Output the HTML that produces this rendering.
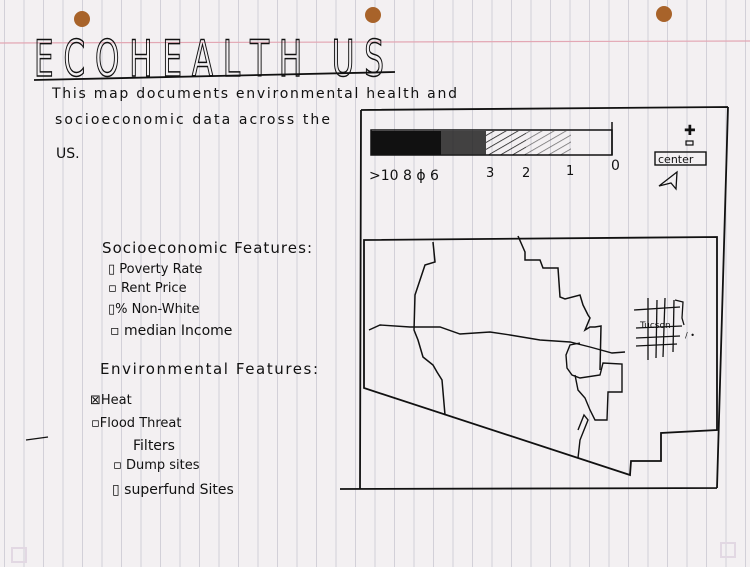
<!DOCTYPE html>
<html><head><meta charset="utf-8"><style>
html,body{margin:0;padding:0;background:#f2eff1;}
svg{display:block}
text{font-family:"DejaVu Sans","Liberation Sans",sans-serif;fill:#111;}
</style></head><body>
<svg width="750" height="567" viewBox="0 0 750 567" xmlns="http://www.w3.org/2000/svg">
<defs>
<pattern id="vl" width="19.5" height="567" patternUnits="userSpaceOnUse" x="4">
<line x1="0.5" y1="0" x2="0.5" y2="567" stroke="#d2d0d8" stroke-width="1"/>
</pattern>
<pattern id="hatch" width="6" height="6" patternUnits="userSpaceOnUse" patternTransform="rotate(60)">
<line x1="0" y1="0" x2="0" y2="6" stroke="#111" stroke-width="1.5"/>
</pattern>
</defs>
<rect width="750" height="567" fill="#f3f0f2"/>
<rect width="750" height="567" fill="url(#vl)"/>
<line x1="0" y1="43" x2="750" y2="41" stroke="#e3a7b4" stroke-width="1.2"/>
<circle cx="82" cy="19" r="8" fill="#a8632a"/>
<circle cx="373" cy="15" r="8" fill="#a8632a"/>
<circle cx="664" cy="14" r="8" fill="#a8632a"/>
<!-- title -->
<text x="34" y="76" font-size="50" stroke="#111" stroke-width="1.5" style="fill:none" textLength="350" lengthAdjust="spacingAndGlyphs">E C O H E A L T H &#160; U S</text>
<line x1="34" y1="80" x2="395" y2="72" stroke="#111" stroke-width="1.8"/>
<!-- description -->
<text x="52" y="98" font-size="14" textLength="405" lengthAdjust="spacing">This  map  documents  environmental  health  and</text>
<text x="55" y="124" font-size="14" textLength="275" lengthAdjust="spacing">socioeconomic  data  across  the</text>
<text x="56" y="158" font-size="14">US.</text>
<!-- features -->
<text x="102" y="253" font-size="15" textLength="210" lengthAdjust="spacing">Socioeconomic   Features:</text>
<text x="108" y="273" font-size="13">▯ Poverty Rate</text>
<text x="108" y="292" font-size="13">▫ Rent  Price</text>
<text x="108" y="313" font-size="13">▯% Non-White</text>
<text x="110" y="335" font-size="14">▫ median  Income</text>
<text x="100" y="374" font-size="15" textLength="218" lengthAdjust="spacing">Environmental  Features:</text>
<text x="90" y="404" font-size="13">⊠Heat</text>
<text x="91" y="427" font-size="13">▫Flood Threat</text>
<text x="133" y="450" font-size="14">Filters</text>
<text x="113" y="469" font-size="13">▫ Dump  sites</text>
<text x="112" y="494" font-size="14">▯ superfund  Sites</text>
<line x1="26" y1="440" x2="48" y2="437" stroke="#111" stroke-width="1.2"/>
<!-- outer frame -->
<path d="M361 110 L728 107 M361 110 L360 489 M340 489 L717 488 M728 107 L717 488" stroke="#111" stroke-width="1.8" fill="none"/>
<!-- legend bar -->
<rect x="371" y="130" width="241" height="25" fill="none" stroke="#111" stroke-width="1.5"/>
<rect x="371" y="131" width="70" height="24" fill="#111"/>
<rect x="441" y="131" width="45" height="24" fill="#222" opacity="0.85"/>
<rect x="486" y="131" width="40" height="24" fill="url(#hatch)"/>
<rect x="526" y="131" width="45" height="24" fill="url(#hatch)" opacity="0.6"/>
<line x1="612" y1="122" x2="612" y2="155" stroke="#111" stroke-width="1.5"/>
<text x="369" y="180" font-size="14">&gt;10 8 ϕ 6</text>
<text x="486" y="177" font-size="13">3</text>
<text x="522" y="177" font-size="13">2</text>
<text x="566" y="175" font-size="13">1</text>
<text x="611" y="170" font-size="14">0</text>
<!-- zoom controls -->
<text x="684" y="135" font-size="14">✚</text>
<rect x="686" y="141" width="7" height="4" fill="none" stroke="#111" stroke-width="1.2"/>
<rect x="655" y="152" width="51" height="13" fill="none" stroke="#111" stroke-width="1.4"/>
<text x="658" y="163" font-size="11">center</text>
<path d="M659 186 L677 172 L676 189 L671 183 Z" fill="none" stroke="#111" stroke-width="1.3"/>
<!-- map -->
<path d="M364 240 L717 237 L717 430 L661 433 L661 461 L631 461 L630 475 L364 388 Z" fill="none" stroke="#111" stroke-width="1.8"/>
<path d="M433 242 L435 262 L425 265 L420 280 L415 295 L414 330 L418 340 L423 357 L433 365 L437 372 L442 380 L445 415" fill="none" stroke="#111" stroke-width="1.5"/>
<path d="M518 236 L525 252 L525 260 L540 260 L543 268 L558 268 L560 297 L565 299 L580 295 L583 305 L588 315 L590 318 L585 330 L590 327 L595 327 L601 326 L600 370" fill="none" stroke="#111" stroke-width="1.5"/>
<path d="M369 330 L380 325 L410 327 L440 327 L460 334 L490 332 L510 335 L540 340 L570 342 L590 347 L612 353 L625 352" fill="none" stroke="#111" stroke-width="1.4"/>
<path d="M580 343 L570 345 L566 355 L567 368 L572 375 L580 378 L600 375 L603 363 L622 364 L622 392 L608 392 L607 420 L595 420 L590 410 L585 398 L578 390 L575 375 M578 430 L584 415 L588 420 L580 440 L578 458" fill="none" stroke="#111" stroke-width="1.4"/>
<g stroke="#111" stroke-width="1.3" fill="none">
<line x1="648" y1="298" x2="648" y2="360"/>
<line x1="657" y1="300" x2="656" y2="358"/>
<line x1="665" y1="298" x2="663" y2="357"/>
<line x1="674" y1="300" x2="673" y2="352"/>
<line x1="634" y1="310" x2="680" y2="307"/>
<line x1="636" y1="328" x2="682" y2="326"/>
<line x1="636" y1="338" x2="680" y2="336"/>
<line x1="636" y1="346" x2="677" y2="344"/>
<path d="M675 300 L683 302 L682 318 L684 325"/>
</g>
<text x="640" y="328" font-size="9">Tucson</text>
<text x="685" y="338" font-size="8">/ •</text>
<rect x="12" y="548" width="14" height="14" fill="none" stroke="#e2d8e3" stroke-width="2"/>
<rect x="721" y="543" width="14" height="14" fill="none" stroke="#e2d8e3" stroke-width="2"/>
</svg>
</body></html>
